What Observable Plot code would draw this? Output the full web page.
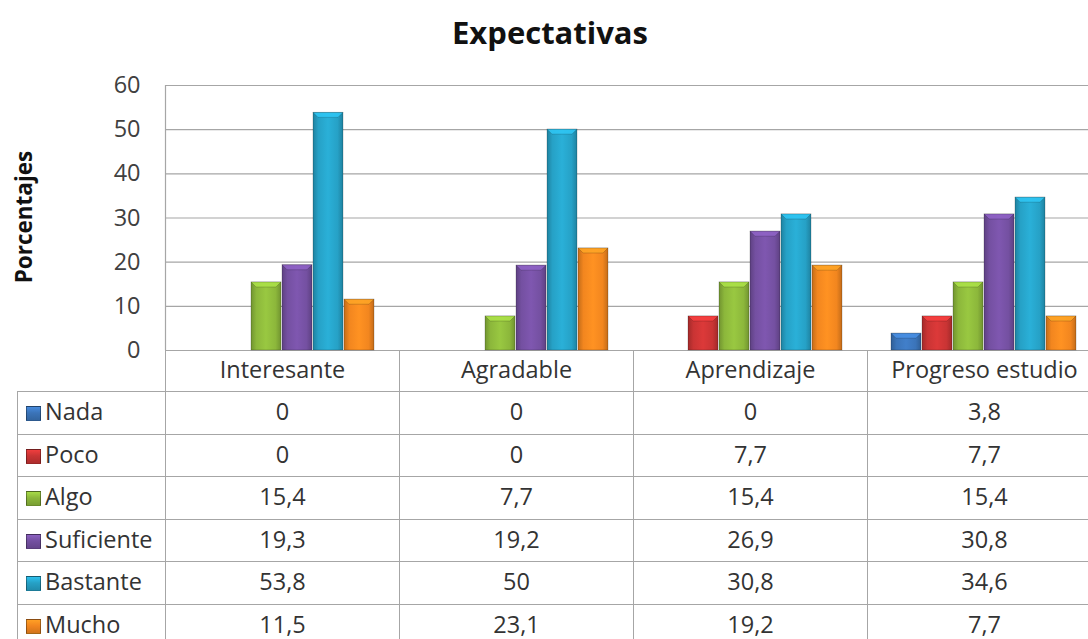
<!DOCTYPE html>
<html><head><meta charset="utf-8">
<script src="https://cdn.jsdelivr.net/npm/d3@7"></script>
<script src="https://cdn.jsdelivr.net/npm/@observablehq/plot@0.6"></script>
<style>
html,body{margin:0;padding:0;background:#fff;overflow:hidden;width:1088px;height:639px}
#wrap{position:relative;width:1110px;height:639px;font-family:"Open Sans",sans-serif;overflow:hidden}
#title{position:absolute;left:0;top:10px;width:1100px;text-align:center;font-weight:bold;font-size:31px;line-height:44px;color:#111}
#ylab{position:absolute;left:23px;top:217px;transform:translate(-50%,-50%) rotate(-90deg);font-weight:bold;font-size:22.5px;color:#111;white-space:nowrap}
#chart{position:absolute;left:0;top:60px}
#tbl{position:absolute;left:17px;top:350px;border-collapse:collapse;font-size:23.5px;color:#333;table-layout:fixed}
#tbl td{border:1px solid #a6a6a6;padding:0 0 3px 0;text-align:center;height:38.5px;white-space:nowrap;line-height:26px;vertical-align:middle}
#tbl tr.head td{height:38px;border-top:none}
#tbl tr.head td.blank{border:none;border-bottom:1px solid #a6a6a6}
#tbl td.lab{text-align:left;padding-left:8px}
.key{display:inline-block;width:15px;height:15px;margin-right:4px;vertical-align:-1px;border:1px solid rgba(0,0,0,0.35);box-sizing:border-box}
</style>
</head><body>
<div id="wrap">
  <div id="title">Expectativas</div>
  <div id="ylab">Porcentajes</div>
  <div id="chart"></div>
  <table id="tbl"></table>
</div>
<script>
const categories = ["Interesante", "Agradable", "Aprendizaje", "Progreso estudio"];
const levels = ["Nada", "Poco", "Algo", "Suficiente", "Bastante", "Mucho"];
const nada = [0, 0, 0, 3.8];
const poco = [0, 0, 7.7, 7.7];
const algo = [15.4, 7.7, 15.4, 15.4];
const suficiente = [19.3, 19.2, 26.9, 30.8];
const bastante = [53.8, 50, 30.8, 34.6];
const mucho = [11.5, 23.1, 19.2, 7.7];
const yTicks = [0, 10, 20, 30, 40, 50, 60];
const colors = ["#3b74b9", "#c93434", "#8cb73b", "#7450a1", "#26a1c6", "#f2861f"];

const series = [nada, poco, algo, suficiente, bastante, mucho];
const data = [];
levels.forEach((lv, i) => categories.forEach((c, j) => data.push({category: c, level: lv, value: series[i][j]})));

const plot = Plot.plot({
  width: 1110,
  height: 305,
  marginLeft: 165,
  marginRight: 9,
  marginTop: 25,
  marginBottom: 15,
  style: {fontFamily: "'Open Sans', sans-serif", fontSize: "23.5px", color: "#404040", background: "transparent", overflow: "visible"},
  fx: {domain: categories, padding: 0, axis: null},
  x: {domain: levels, paddingInner: 0.02, paddingOuter: 0.73, axis: null},
  y: {domain: [0, 60], ticks: yTicks, tickSize: 0, tickPadding: 25, label: null},
  color: {domain: levels, range: colors},
  marks: [
    Plot.ruleY(yTicks, {stroke: "#a6a6a6", strokeWidth: 1.2}),
    Plot.barY(data.filter(d => d.value > 0), {fx: "category", x: "level", y1: 0, y2: "value", fill: "level", stroke: "rgba(0,0,0,0.25)", strokeWidth: 0.8})
  ]
});

// 3D-like gradients
const svg = d3.select(plot);
const defs = svg.insert("defs", ":first-child");
colors.forEach((c, i) => {
  const base = d3.color(c);
  const g = defs.append("linearGradient").attr("id", "g" + i).attr("x1", "0").attr("x2", "1").attr("y1", "0").attr("y2", "0");
  g.append("stop").attr("offset", "0%").attr("stop-color", base.darker(0.6));
  g.append("stop").attr("offset", "18%").attr("stop-color", base);
  g.append("stop").attr("offset", "50%").attr("stop-color", base.brighter(0.25));
  g.append("stop").attr("offset", "82%").attr("stop-color", base);
  g.append("stop").attr("offset", "100%").attr("stop-color", base.darker(0.6));
});
svg.selectAll('g[aria-label="bar"] rect').each(function() {
  const f = d3.color(this.getAttribute("fill"));
  if (!f) return;
  const idx = colors.findIndex(c => d3.color(c).formatHex() === f.formatHex());
  if (idx < 0) return;
  this.setAttribute("fill", `url(#g${idx})`);
  // bevelled top highlight, derived from the rendered bar
  const x = +this.getAttribute("x"), y = +this.getAttribute("y");
  const w = +this.getAttribute("width"), h = +this.getAttribute("height");
  const b = Math.min(5, h / 2);
  d3.select(this.parentNode).append("polygon")
    .attr("points", `${x},${y} ${x + w},${y} ${x + w - b},${y + b} ${x + b},${y + b}`)
    .attr("fill", d3.color(colors[idx]).brighter(0.6))
    .attr("opacity", 0.85);
});
// left frame edge of the plotting area
const ys = plot.scale("y");
svg.append("line")
  .attr("x1", 165.5).attr("x2", 165.5)
  .attr("y1", ys.apply(60)).attr("y2", ys.apply(0))
  .attr("stroke", "#a6a6a6").attr("stroke-width", 1.2);
document.getElementById("chart").appendChild(plot);

// data table
const fmt = v => String(v).replace(".", ",");
const tbl = d3.select("#tbl");
const cg = tbl.append("colgroup");
cg.append("col").style("width", "148px");
categories.forEach(() => cg.append("col").style("width", "234px"));
const head = tbl.append("tr").attr("class", "head");
head.append("td").attr("class", "blank");
categories.forEach(c => head.append("td").text(c));
levels.forEach((lv, i) => {
  const tr = tbl.append("tr");
  const base = d3.color(colors[i]);
  tr.append("td").attr("class", "lab").html(
    `<span class="key" style="background:linear-gradient(180deg, ${base.brighter(0.5)} 0%, ${base} 45%, ${base.darker(0.4)} 100%)"></span>${lv}`);
  series[i].forEach(v => tr.append("td").text(fmt(v)));
});
</script>
</body></html>
